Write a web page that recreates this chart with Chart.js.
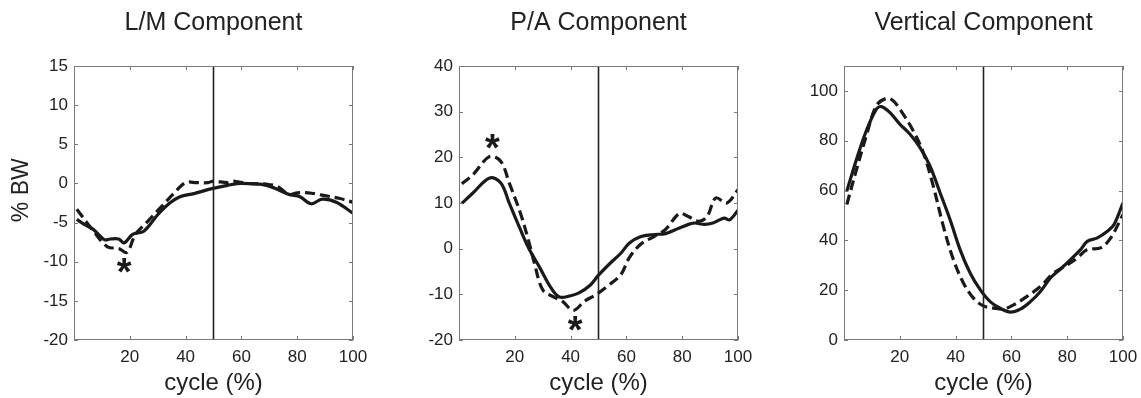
<!DOCTYPE html>
<html>
<head>
<meta charset="utf-8">
<script src="https://cdn.jsdelivr.net/npm/chart.js@4.4.1/dist/chart.umd.min.js"></script>
<style>
  html, body { margin: 0; padding: 0; background: #fff; overflow: hidden; width: 1141px; height: 398px; }
  .panel { position: absolute; top: 0; width: 427px; height: 398px; }
</style>
</head>
<body>
<div class="panel" style="left:0px"><canvas id="lm" width="427" height="398"></canvas></div>
<div class="panel" style="left:385px"><canvas id="pa" width="427" height="398"></canvas></div>
<div class="panel" style="left:770px"><canvas id="vert" width="427" height="398"></canvas></div>
<script>
// shared x axis (gait cycle, %)
const cycleTicks = [20, 40, 60, 80, 100];
const stanceEnd = 50;

// L/M component
const lmRange = [-20, 15];
const lmTicks = [-20, -15, -10, -5, 0, 5, 10, 15];
const lmSolidX = [1, 4, 7, 11, 13, 16, 18, 21, 25, 30, 34, 38, 43, 49, 55, 60, 69, 77, 81, 85, 89, 94, 100];
const lmSolid  = [-4.6, -5.3, -5.9, -7.2, -7.1, -7.1, -7.6, -6.5, -6.1, -4.0, -2.6, -1.7, -1.3, -0.7, -0.25, 0, -0.25, -1.4, -1.7, -2.6, -2.0, -2.4, -3.8];
const lmDashX  = [1, 7, 12, 16, 19, 22, 26, 31, 36, 40, 44, 48, 50, 55, 57, 62, 69, 73, 77, 80, 84, 89, 95, 100];
const lmDash   = [-3.3, -6.1, -8.1, -8.3, -8.8, -6.5, -5.0, -3.1, -1.2, 0.1, 0.1, 0.1, 0.3, 0.1, 0.3, 0, -0.1, -0.4, -1.4, -1.2, -1.2, -1.5, -1.9, -2.4];
const lmStarX  = [18];
const lmStarY  = [-10.5];

// P/A component
const paRange = [-20, 40];
const paTicks = [-20, -10, 0, 10, 20, 30, 40];
const paSolidX = [1, 5, 11, 15, 18, 22, 25, 29, 33, 36, 40, 43, 47, 50, 54, 58, 61, 65, 70, 74, 79, 84, 88, 91, 95, 97, 100];
const paSolid  = [9.9, 12.2, 15.5, 14.4, 10, 4.2, 0.1, -4.2, -8.6, -10.6, -10.3, -9.7, -8.0, -5.8, -3.3, -1.0, 1.2, 2.6, 3.1, 3.3, 4.5, 5.6, 5.3, 5.6, 6.7, 6.3, 8.4];
const paDashX  = [1, 5, 11, 15, 18, 22, 25, 27, 30, 34, 37, 41, 45, 49, 53, 58, 61, 65, 70, 74, 79, 82, 86, 89, 92, 96, 100];
const paDash   = [14.2, 16.2, 20.2, 19.1, 14.4, 7.8, 1.6, -3.1, -9.0, -10.6, -11.5, -13.5, -11.5, -10.1, -8.3, -5.7, -2.0, 0.9, 2.7, 4.2, 7.7, 7.1, 6.0, 7.1, 11.1, 10.0, 12.9];
const paStarX  = [12, 41.6];
const paStarY  = [23.4, -16.4];

// Vertical component
const vRange = [0, 110];
const vTicks = [0, 20, 40, 60, 80, 100];
const vSolidX = [1, 4.5, 8, 11.6, 13.4, 16.4, 20, 23.6, 27.2, 30.8, 34.4, 38, 41.6, 45.2, 48.8, 52.4, 56.6, 59.6, 63.2, 66.8, 70.4, 74, 77.6, 81.2, 84.8, 87.2, 90.8, 94.4, 96.8, 100];
const vSolid  = [59.8, 72.6, 84, 92.7, 93.7, 91.4, 86.7, 82.7, 77.3, 69.9, 59.2, 48.4, 36.3, 26.9, 20.2, 15.4, 12.4, 11.2, 12.4, 15.4, 19.5, 24.9, 28.5, 32.3, 36.3, 39.6, 41, 43.7, 46.4, 55.1];
const vDashX  = [1, 4.5, 8, 11.6, 15.2, 17.6, 21.2, 24.8, 28.4, 32, 35.6, 39.2, 42.8, 46.4, 50, 53.6, 57.2, 60.8, 65.6, 70.4, 75.2, 80, 83.6, 87.2, 92, 95.6, 100];
const vDash   = [54.4, 68.5, 82, 94.1, 97, 96.1, 90.7, 84, 75.3, 61.8, 45.7, 32.3, 22.9, 16.8, 13.7, 12.8, 12.4, 14.1, 17.5, 21.5, 26.9, 30.2, 32.9, 36.3, 37, 41, 50.4];

const FONT = '"Liberation Sans", Arial, Helvetica, sans-serif';
const INK = '#1a1a1a';

function pairs(xs, ys) {
  return xs.map((x, i) => ({x: x, y: ys[i]}));
}

// matlab style box with inward ticks + asterisks
const framePlugin = {
  id: 'frame',
  afterDatasetsDraw(chart, args, opts) {
    const ctx = chart.ctx;
    const a = chart.chartArea;
    const xs = chart.scales.x, ys = chart.scales.y;
    ctx.save();
    ctx.strokeStyle = '#7a7a7a';
    ctx.lineWidth = 1;
    ctx.strokeRect(a.left + 0.5, a.top + 0.5, a.right - a.left - 1, a.bottom - a.top - 1);
    ctx.beginPath();
    ys.ticks.forEach(t => {
      const py = Math.round(ys.getPixelForValue(t.value)) + 0.5;
      ctx.moveTo(a.left, py); ctx.lineTo(a.left + 4, py);
      ctx.moveTo(a.right, py); ctx.lineTo(a.right - 4, py);
    });
    xs.ticks.forEach(t => {
      const px = Math.round(xs.getPixelForValue(t.value)) + 0.5;
      ctx.moveTo(px, a.bottom); ctx.lineTo(px, a.bottom - 4);
      ctx.moveTo(px, a.top); ctx.lineTo(px, a.top + 4);
    });
    ctx.stroke();

    // significance marks
    ctx.fillStyle = INK;
    ctx.font = 'bold 38px ' + FONT;
    ctx.textAlign = 'center';
    ctx.textBaseline = 'alphabetic';
    const m = ctx.measureText('*');
    const shift = (m.actualBoundingBoxAscent - m.actualBoundingBoxDescent) / 2;
    (opts.starX || []).forEach((sx, i) => {
      const px = xs.getPixelForValue(sx);
      const py = ys.getPixelForValue(opts.starY[i]);
      ctx.fillText('*', px, py + shift);
    });
    ctx.restore();
  }
};

function makePanel(id, title, range, yTicks, solidX, solid, dashX, dash, starX, starY, yTitle) {
  new Chart(document.getElementById(id), {
    type: 'line',
    data: {
      datasets: [
        {
          data: pairs([stanceEnd, stanceEnd], range),
          borderColor: '#222',
          borderWidth: 1.6,
          pointRadius: 0
        },
        {
          data: pairs(solidX, solid),
          borderColor: INK,
          borderWidth: 3.2,
          pointRadius: 0,
          tension: 0.35
        },
        {
          data: pairs(dashX, dash),
          borderColor: INK,
          borderWidth: 3.2,
          borderDash: [10, 5],
          pointRadius: 0,
          tension: 0.35
        }
      ]
    },
    options: {
      responsive: false,
      animation: false,
      events: [],
      layout: { padding: 0 },
      plugins: {
        legend: { display: false },
        tooltip: { enabled: false },
        title: {
          display: true,
          text: title,
          color: '#222',
          font: { family: FONT, size: 25, weight: 'normal' },
          padding: { top: 8.5, bottom: 27.5 }
        },
        frame: { starX: starX, starY: starY }
      },
      scales: {
        x: {
          type: 'linear',
          min: 0,
          max: 100,
          afterBuildTicks: s => { s.ticks = cycleTicks.map(v => ({value: v})); },
          afterFit: s => { s.height = 58; },
          grid: { display: false, drawTicks: false },
          border: { display: false },
          ticks: { color: '#222', padding: 7, maxRotation: 0, font: { family: FONT, size: 17 } },
          title: {
            display: true,
            text: 'cycle (%)',
            color: '#222',
            font: { family: FONT, size: 24 },
            padding: { top: 0, bottom: 0 }
          }
        },
        y: {
          type: 'linear',
          position: 'left',
          min: range[0],
          max: range[1],
          afterBuildTicks: s => { s.ticks = yTicks.map(v => ({value: v})); },
          afterFit: s => { s.width = 74; },
          grid: { display: false, drawTicks: false },
          border: { display: false },
          ticks: { color: '#222', padding: 6, font: { family: FONT, size: 17 } },
          title: {
            display: !!yTitle,
            text: yTitle || '',
            color: '#222',
            font: { family: FONT, size: 23 },
            padding: { top: 8, bottom: 0 }
          }
        },
        // empty right gutter so the title centres over the plot box
        yr: {
          type: 'linear',
          position: 'right',
          afterFit: s => { s.width = 74; },
          grid: { display: false, drawTicks: false },
          border: { display: false },
          ticks: { display: false }
        }
      }
    },
    plugins: [framePlugin]
  });
}

makePanel('lm', 'L/M Component', lmRange, lmTicks, lmSolidX, lmSolid, lmDashX, lmDash, lmStarX, lmStarY, '    % BW');
makePanel('pa', 'P/A Component', paRange, paTicks, paSolidX, paSolid, paDashX, paDash, paStarX, paStarY, null);
makePanel('vert', 'Vertical Component', vRange, vTicks, vSolidX, vSolid, vDashX, vDash, [], [], null);
</script>
</body>
</html>
